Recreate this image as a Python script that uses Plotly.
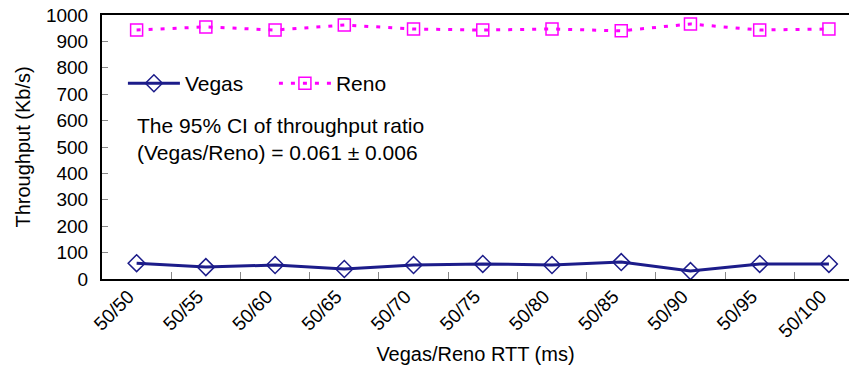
import plotly.graph_objects as go

categories = ["50/50", "50/55", "50/60", "50/65", "50/70", "50/75", "50/80", "50/85", "50/90", "50/95", "50/100"]
vegas = [60, 45, 53, 38, 53, 57, 53, 64, 30, 57, 57]
reno = [943, 955, 943, 962, 947, 943, 947, 940, 966, 943, 947]
y_ticks = [0, 100, 200, 300, 400, 500, 600, 700, 800, 900, 1000]

fam = "Liberation Sans, Arial, sans-serif"
tick_font = dict(family=fam, size=19, color="black")
big_font = dict(family=fam, size=21, color="black")
title_font = dict(family=fam, size=20, color="black")

fig = go.Figure()
fig.add_trace(go.Scatter(
    x=categories, y=vegas, name="Vegas", mode="lines+markers",
    line=dict(color="#1c1c8a", width=3),
    marker=dict(symbol="diamond-open", size=13, color="#1c1c8a", line=dict(width=1.5, color="#1c1c8a")),
))
fig.add_trace(go.Scatter(
    x=categories, y=reno, name="Reno", mode="lines+markers",
    line=dict(color="#ff00ff", width=3, dash="4px,8px"),
    marker=dict(symbol="square-open", size=12, color="#ff00ff", line=dict(width=1.5, color="#ff00ff")),
))

fig.update_layout(
    width=849, height=380,
    margin=dict(l=102, r=0, t=15, b=101),
    paper_bgcolor="white", plot_bgcolor="white",
    font=tick_font,
    showlegend=True,
    legend=dict(orientation="h", x=0.028, y=0.74, xanchor="left", yanchor="middle",
                bgcolor="rgba(0,0,0,0)", font=big_font, itemwidth=52, entrywidth=84),
    annotations=[dict(
        text="The 95% CI of throughput ratio<br>(Vegas/Reno) = 0.061 ± 0.006",
        xref="paper", yref="paper", x=0.044, y=0.53, xanchor="left", yanchor="middle",
        showarrow=False, align="left", font=big_font,
    )],
)
fig.update_xaxes(
    type="category", range=[-0.5, 10.29], tickson="boundaries",
    ticks="inside", ticklen=7, tickcolor="#888", tickangle=-45,
    ticklabelshift=-8, ticklabelstandoff=-3,
    showline=True, linecolor="black", linewidth=2, mirror=True,
    showgrid=False, zeroline=False,
    title=dict(text="Vegas/Reno RTT (ms)", font=title_font, standoff=6),
    tickfont=tick_font,
)
fig.update_yaxes(
    range=[0, 1000], tickvals=y_ticks, ticks="inside", ticklen=6, tickcolor="#888",
    showline=True, linecolor="black", linewidth=2, mirror=False,
    showgrid=False, zeroline=False, ticklabelstandoff=8,
    title=dict(text="Throughput (Kb/s)", font=title_font, standoff=10),
    tickfont=tick_font,
)

fig.write_html("out.html")
